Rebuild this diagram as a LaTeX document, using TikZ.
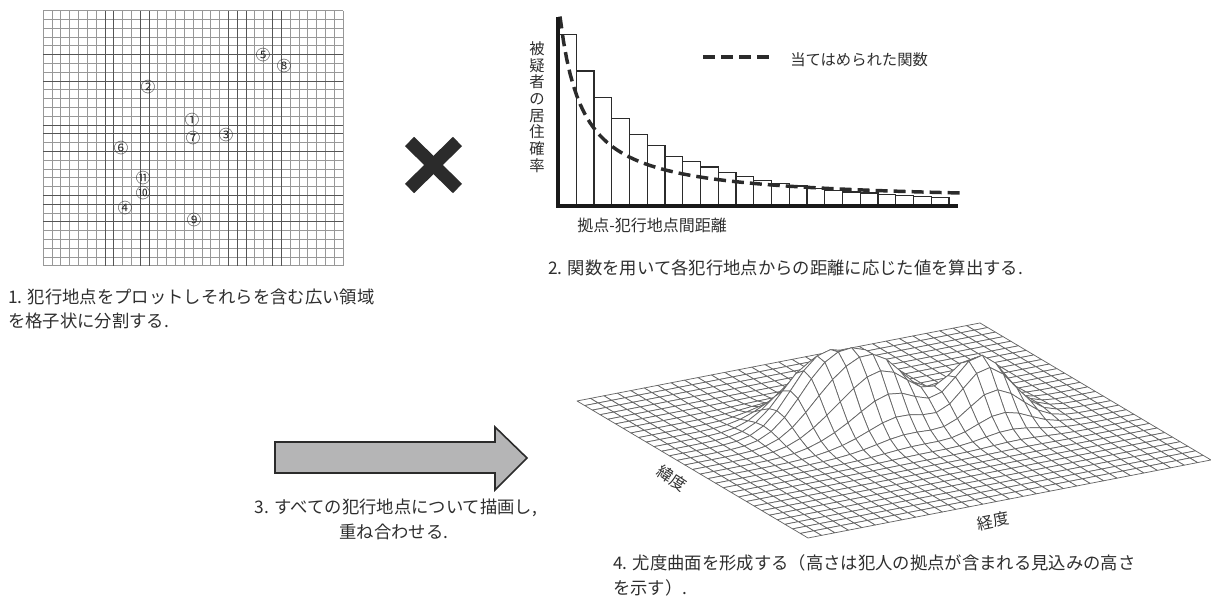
\documentclass[tikz,border=0pt]{standalone}
\usepackage{fontspec}
\setmainfont{Noto Sans CJK JP}
\definecolor{txt}{HTML}{2E2E2E}
\definecolor{gridc}{HTML}{989898}
\definecolor{gridd}{HTML}{555555}
\definecolor{meshc}{HTML}{666666}
\definecolor{arrowfill}{HTML}{B5B5B6}
\definecolor{inkc}{HTML}{2B2B2B}
\begin{document}
\begin{tikzpicture}[x=0.75pt,y=-0.75pt,
  every node/.style={text=txt,inner sep=0pt},
  gridline/.style={draw=gridc,line width=0.75pt},
  darkline/.style={draw=gridd,line width=0.8pt},
  cnum/.style={font=\fontsize{10.8}{10.8}\selectfont,text=inkc},
  xmark/.style={draw=inkc,line width=9.8pt,line cap=butt},
  barbox/.style={draw=inkc,line width=1pt,fill=white},
  axisline/.style={draw=black!90,line width=2.3pt,line join=miter},
  fitcurve/.style={draw=inkc,line width=2.6pt,dash pattern=on 9pt off 4.5pt},
  captxt/.style={font=\fontsize{13}{13}\selectfont},
  lbltxt/.style={font=\fontsize{11.5}{11.5}\selectfont},
  meshq/.style={draw=meshc,line width=0.55pt,fill=white,line join=round},
  bigarrow/.style={draw=inkc,line width=1.2pt,fill=arrowfill,line join=miter}]
\useasboundingbox (0,0) rectangle (1211,599);

% ---------- panel 1: grid ----------
\foreach \k in {0,...,34}{\draw[gridline] ({43.3+8.82*\k},10.7) -- ({43.3+8.82*\k},266);}
\foreach \k in {0,...,29}{\draw[gridline] (43.3,{10.7+8.8*\k}) -- (343.2,{10.7+8.8*\k});}
\foreach \k in {7,8,11,12,21,22,23,26,27}{\draw[darkline] ({43.3+8.82*\k},10.7) -- ({43.3+8.82*\k},266);}
\foreach \k in {5,8,13,14,16,21,22,24}{\draw[darkline] (43.3,{10.7+8.8*\k}) -- (343.2,{10.7+8.8*\k});}
\node[cnum] (c1) at (192,120) {①};
\node[cnum] (c2) at (148,87) {②};
\node[cnum] (c3) at (226,135) {③};
\node[cnum] (c4) at (125,208) {④};
\node[cnum] (c5) at (263,55) {⑤};
\node[cnum] (c6) at (121,148) {⑥};
\node[cnum] (c7) at (193,138) {⑦};
\node[cnum] (c8) at (284,66) {⑧};
\node[cnum] (c9) at (194,220) {⑨};
\node[cnum] (c10) at (143,193.5) {⑩};
\node[cnum] (c11) at (143,178.5) {⑪};
\node[captxt,anchor=west] (cap1a) at (8,297) {1. 犯行地点をプロットしそれらを含む広い領域};
\node[captxt,anchor=west] (cap1b) at (8,321) {を格子状に分割する.};

% ---------- times mark ----------
\draw[xmark] (409.5,141.5) -- (457.5,188.5);
\draw[xmark] (457.5,141.5) -- (409.5,188.5);

% ---------- panel 2: histogram ----------
\foreach \h [count=\n from 0] in {171.7,135,108.7,87.7,71.7,60.3,49.3,44.3,39,33.3,29.3,25.7,22.7,20,17.3,15.3,14,13,11.7,10.3,9.3,8.7}
  {\draw[barbox] ({558.5+17.75*\n},206) rectangle ({558.5+17.75*(\n+1)},{206-\h});}
\draw[fitcurve] plot[domain=560:960,samples=120] (\x,{203-4233/(\x-537.3)});
\draw[axisline] (558,17) -- (558,206) -- (958,206);
\coordinate (lg1) at (703,57);
\coordinate (lg2) at (770,57);
\draw[fitcurve] (lg1) -- (lg2);
\node[lbltxt,anchor=west] (legend) at (790,60) {当てはめられた関数};
\node[lbltxt,align=center,font=\fontsize{11.5}{12.5}\selectfont] (ylab) at (537,107) {被\\疑\\者\\の\\居\\住\\確\\率};
\node[lbltxt,anchor=west,font=\fontsize{12}{12}\selectfont] (xlab) at (577,225) {拠点-犯行地点間距離};
\node[captxt,anchor=west] (cap2) at (548,268) {2. 関数を用いて各犯行地点からの距離に応じた値を算出する.};

% ---------- arrow ----------
\draw[bigarrow] (275,442) -- (495,442) -- (495,427) -- (527,458) -- (495,490) -- (495,473) -- (275,473) -- cycle;
\node[captxt] (cap3a) at (396,508) {3. すべての犯行地点について描画し,};
\node[captxt] (cap3b) at (394,532) {重ね合わせる.};

% ---------- panel 4: surface ----------
\foreach \i in {0,...,30}{\foreach \j in {0,...,30}{
  \pgfmathsetmacro\hh{60*exp(max(-9,-((\i-11)*(\i-11)+(\j-12)*(\j-12))/9.7))
     +60*exp(max(-9,-((\i-14.5)*(\i-14.5)+(\j-14)*(\j-14))/9.7))
     +64*exp(max(-9,-((\i-20.8)*(\i-20.8)+(\j-16)*(\j-16))/8))}
  \coordinate (p-\i-\j) at ({577+13.433*\i+7.7*\j},{401-2.6*\i+4.567*\j-\hh});
}}
\foreach \j in {0,...,29}{\foreach \i in {29,28,...,0}{
  \pgfmathtruncatemacro\ia{\i+1}\pgfmathtruncatemacro\ja{\j+1}
  \filldraw[meshq] (p-\i-\j) -- (p-\ia-\j) -- (p-\ia-\ja) -- (p-\i-\ja) -- cycle;
}}
\node[lbltxt,rotate=-33,font=\fontsize{12}{12}\selectfont] (lat) at (672,478) {緯度};
\node[lbltxt,rotate=11,font=\fontsize{12}{12}\selectfont] (lon) at (993,521) {経度};
\node[captxt,anchor=west] (cap4a) at (613,563) {4. 尤度曲面を形成する（高さは犯人の拠点が含まれる見込みの高さ};
\node[captxt,anchor=west] (cap4b) at (613,588) {を示す）.};
\end{tikzpicture}
\end{document}
